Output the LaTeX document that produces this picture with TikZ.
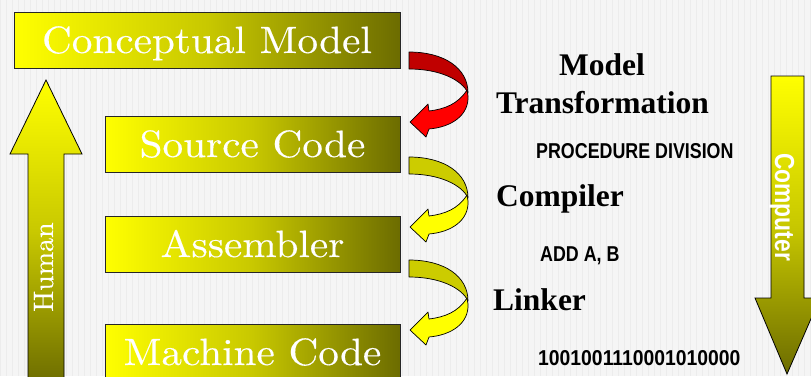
\documentclass[tikz,border=0pt]{standalone}
\usepackage{fontspec}
\usepackage{graphicx}
\newfontfamily\lblserif{Liberation Serif}
\newfontfamily\lblsans{Liberation Sans}
\newfontfamily\boxfont{lmroman10-regular.otf}[FakeBold=0.3, FakeStretch=1.085]
\newfontfamily\humanfont{lmroman10-regular.otf}[FakeBold=0.3]
\definecolor{bgc}{RGB}{245,245,245}
\definecolor{gridc}{RGB}{236,236,236}
\definecolor{yelA}{RGB}{255,255,0}
\definecolor{yelM}{RGB}{200,200,0}
\definecolor{oliveA}{RGB}{108,108,0}
\definecolor{redDark}{RGB}{192,0,0}
\definecolor{redLight}{RGB}{255,0,0}
\definecolor{yelDark}{RGB}{204,204,0}
\definecolor{yelLight}{RGB}{255,255,0}
\newcommand\twistarrow[3]{%
  \begin{scope}[shift={(0,#1)}]
    \filldraw[fill=#2, twistline] (409,52) .. controls (444,52) and (468,68) .. (468,93)
      .. controls (462,80) and (440,69) .. (409,69) -- cycle;
    \filldraw[fill=#3, twistline] (467,90) .. controls (458,104) and (445,109) .. (429,111)
      -- (428,104) -- (410,122) -- (426,137) -- (429,129)
      .. controls (452,127) and (469,115) .. (468,96) -- cycle;
  \end{scope}}
\newcommand\condtxt[2]{\scalebox{#1}[1]{#2}}
\begin{document}
\begin{tikzpicture}[x=1pt,y=-1pt,
  box/.style={draw=black!85, line width=0.9pt, left color=yelA, right color=oliveA, middle color=yelM,
    text=white, inner sep=0pt, minimum height=56pt, text height=41pt, text depth=15pt,
    font=\boxfont\fontsize{38}{40}\selectfont},
  bigarrow/.style={draw=black, line width=0.8pt, top color=yelA, bottom color=oliveA, middle color=yelM},
  twistline/.style={draw=black, line width=0.7pt, line join=round},
  lbl/.style={inner sep=0pt, text=black, font=\lblserif\bfseries\fontsize{31.5}{34}\selectfont},
  small/.style={inner sep=0pt, text=black, font=\lblsans\bfseries\fontsize{21.5}{24}\selectfont},
  vtext/.style={inner sep=0pt, text=white}
]
\useasboundingbox (0,0) rectangle (811,376);
\clip (0,0) rectangle (811,376);
\fill[bgc] (0,0) rectangle (811,376);
\draw[gridc, line width=0.3pt, step=6] (0,0) grid (811,376);

% left "Human" arrow
\shadedraw[bigarrow] (28,385) -- (28,154) -- (10,154) -- (46,80) -- (82,154) -- (64,154) -- (64,385) -- cycle;
\node[vtext, rotate=90, anchor=base west, font=\humanfont\fontsize{28}{30}\selectfont] (human) at (53,312) {Human};

% right "Computer" arrow
\shadedraw[bigarrow] (771,76) -- (804,76) -- (804,298) -- (820,298) -- (787,374) -- (755,298) -- (771,298) -- cycle;
\node[vtext, rotate=-90, anchor=base west, font=\lblsans\bfseries\fontsize{27.5}{29}\selectfont] (computer) at (775,153) {\condtxt{0.83}{Computer}};

% boxes
\node[box, minimum width=386pt] (cm) at (207,40) {Conceptual Model};
\node[box, minimum width=295pt] (sc) at (252.5,144) {Source Code};
\node[box, minimum width=295pt] (as) at (252.5,244) {Assembler};
\node[box, minimum width=295pt] (mc) at (252.5,352) {Machine Code};

% twisted arrows
\twistarrow{0}{redDark}{redLight}
\twistarrow{105}{yelDark}{yelLight}
\twistarrow{208}{yelDark}{yelLight}

% labels
\node[lbl, anchor=base] (model) at (602,75) {Model};
\node[lbl, anchor=base] (transf) at (602.5,113) {Transformation};
\node[lbl, anchor=base west] (compiler) at (496,206) {Compiler};
\node[lbl, anchor=base west] (linker) at (493,310) {Linker};

\node[small, anchor=base west] (proc) at (536,158) {\condtxt{0.83}{PROCEDURE DIVISION}};
\node[small, anchor=base west] (add) at (540,261) {\condtxt{0.83}{ADD A, B}};
\node[small, anchor=base west] (bin) at (538,365) {\condtxt{0.9}{1001001110001010000}};
\end{tikzpicture}
\end{document}
